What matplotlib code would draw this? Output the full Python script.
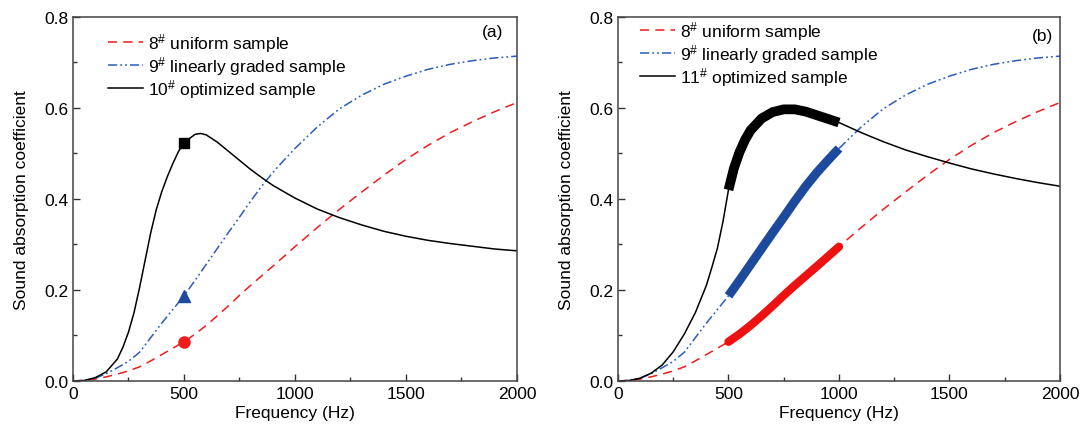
import numpy as np
import matplotlib
matplotlib.use("Agg")
import matplotlib.pyplot as plt
from matplotlib.ticker import MultipleLocator

plt.rcParams['font.family'] = ['Liberation Sans', 'DejaVu Sans']
plt.rcParams['mathtext.fontset'] = 'custom'
plt.rcParams['mathtext.rm'] = 'Liberation Sans'
plt.rcParams['mathtext.it'] = 'Liberation Sans'
plt.rcParams['mathtext.default'] = 'regular'

# ---- data ----
freq_uniform = [0, 50, 100, 150, 200, 250, 300, 350, 400, 450, 500, 550, 600, 650, 700,
                750, 800, 900, 1000, 1100, 1200, 1300, 1400, 1500, 1600, 1700, 1800, 1900, 2000]
alpha_uniform = [0, 0.001, 0.004, 0.009, 0.015, 0.022, 0.031, 0.044, 0.058, 0.072, 0.086,
                 0.103, 0.122, 0.143, 0.165, 0.188, 0.210, 0.252, 0.295, 0.337, 0.377,
                 0.415, 0.452, 0.487, 0.518, 0.546, 0.570, 0.592, 0.612]

freq_graded = [0, 50, 100, 150, 200, 250, 300, 350, 400, 450, 500, 550, 600, 650, 700,
               750, 800, 850, 900, 950, 1000, 1100, 1200, 1300, 1400, 1500, 1600, 1700,
               1800, 1900, 2000]
alpha_graded = [0, 0.001, 0.006, 0.016, 0.029, 0.043, 0.063, 0.095, 0.127, 0.157, 0.187,
                0.221, 0.256, 0.291, 0.326, 0.360, 0.395, 0.428, 0.458, 0.485, 0.511,
                0.558, 0.598, 0.628, 0.652, 0.670, 0.685, 0.696, 0.704, 0.710, 0.714]

freq_opt10 = [0, 50, 100, 150, 200, 225, 250, 275, 300, 325, 350, 375, 400, 425, 450, 475,
              500, 550, 575, 600, 650, 700, 750, 800, 850, 900, 1000, 1100, 1200, 1300,
              1400, 1500, 1600, 1700, 1800, 1900, 2000]
alpha_opt10 = [0, 0.001, 0.007, 0.020, 0.048, 0.074, 0.107, 0.150, 0.205, 0.265, 0.325,
               0.376, 0.416, 0.449, 0.478, 0.504, 0.524, 0.542, 0.544, 0.541, 0.525,
               0.505, 0.485, 0.465, 0.447, 0.430, 0.402, 0.378, 0.359, 0.343, 0.329,
               0.318, 0.309, 0.302, 0.296, 0.290, 0.286]

freq_opt11 = [0, 50, 100, 150, 200, 250, 300, 350, 400, 425, 450, 475, 500, 525, 550, 575,
              600, 650, 700, 750, 800, 850, 900, 950, 1000, 1100, 1200, 1300, 1400, 1500,
              1600, 1700, 1800, 1900, 2000]
alpha_opt11 = [0, 0.001, 0.006, 0.017, 0.035, 0.064, 0.103, 0.150, 0.210, 0.250, 0.292,
               0.350, 0.420, 0.468, 0.503, 0.530, 0.551, 0.577, 0.591, 0.597, 0.597,
               0.592, 0.584, 0.576, 0.568, 0.546, 0.526, 0.508, 0.493, 0.479, 0.466,
               0.455, 0.445, 0.436, 0.428]

marker_freq = 500
band = (500, 1000)

labels_a = [r'8$^{\#}$ uniform sample', r'9$^{\#}$ linearly graded sample',
            r'10$^{\#}$ optimized sample']
labels_b = [r'8$^{\#}$ uniform sample', r'9$^{\#}$ linearly graded sample',
            r'11$^{\#}$ optimized sample']

RED = '#f01c1c'
BLUE = '#2a5cbf'
BLUE_DARK = '#1d4a9c'
BLACK = '#000000'
dashdotdot = (0, (6, 2, 1.2, 2, 1.2, 2))

fig = plt.figure(figsize=(10.84, 4.39), dpi=100)
axa = fig.add_axes([0.0673, 0.130, 0.4096, 0.829])
axb = fig.add_axes([0.5701, 0.130, 0.4077, 0.829])


def style(ax, panel, px, py):
    ax.set_xlim(0, 2000)
    ax.set_ylim(0, 0.8)
    ax.xaxis.set_major_locator(MultipleLocator(500))
    ax.xaxis.set_minor_locator(MultipleLocator(250))
    ax.yaxis.set_major_locator(MultipleLocator(0.2))
    ax.yaxis.set_minor_locator(MultipleLocator(0.1))
    ax.yaxis.set_major_formatter(plt.FuncFormatter(lambda v, p: f'{v:.1f}'))
    ax.tick_params(which='both', direction='in', labelsize=12.5, colors='#333333',
                   labelcolor='black', width=1)
    ax.tick_params(which='major', length=5)
    ax.tick_params(which='minor', length=3)
    for s in ax.spines.values():
        s.set_color('#444444')
        s.set_linewidth(1.1)
    ax.set_xlabel('Frequency (Hz)', fontsize=12.5, labelpad=3)
    ax.set_ylabel('Sound absorption coefficient', fontsize=12.5, labelpad=11)
    ax.text(px, py, panel, transform=ax.transAxes, ha='right', va='center',
            fontsize=12.5)


def interp_at(fx, fy, x):
    return np.interp(x, fx, fy)


# ---- panel (a) ----
l1, = axa.plot(freq_uniform, alpha_uniform, color=RED, lw=1.1, linestyle=(0, (6, 4)))
l2, = axa.plot(freq_graded, alpha_graded, color=BLUE, lw=1.1, linestyle=dashdotdot)
l3, = axa.plot(freq_opt10, alpha_opt10, color=BLACK, lw=1.1)
axa.plot([marker_freq], [interp_at(freq_uniform, alpha_uniform, marker_freq)], 'o',
         color=RED, ms=8)
axa.plot([marker_freq], [interp_at(freq_graded, alpha_graded, marker_freq)], '^',
         color=BLUE_DARK, ms=8)
axa.plot([marker_freq], [interp_at(freq_opt10, alpha_opt10, marker_freq)], 's',
         color=BLACK, ms=7)
style(axa, '(a)', 0.968, 0.959)
axa.legend([l1, l2, l3], labels_a, loc='upper left', bbox_to_anchor=(0.079, 0.962),
           frameon=False, fontsize=12.5, handlelength=2.0, handletextpad=0.3,
           labelspacing=0.0, borderaxespad=0, borderpad=0)

# ---- panel (b) ----
m1, = axb.plot(freq_uniform, alpha_uniform, color=RED, lw=1.1, linestyle=(0, (6, 4)))
m2, = axb.plot(freq_graded, alpha_graded, color=BLUE, lw=1.1, linestyle=dashdotdot)
m3, = axb.plot(freq_opt11, alpha_opt11, color=BLACK, lw=1.1)


def thick(ax, fx, fy, color, capstyle, lw):
    fx = np.asarray(fx, float)
    fy = np.asarray(fy, float)
    m = (fx >= band[0]) & (fx <= band[1])
    ax.plot(fx[m], fy[m], color=color, lw=lw, solid_capstyle=capstyle,
            solid_joinstyle='round')


thick(axb, freq_uniform, alpha_uniform, '#ee1111', 'round', 6.0)
thick(axb, freq_graded, alpha_graded, BLUE_DARK, 'butt', 6.5)
thick(axb, freq_opt11, alpha_opt11, BLACK, 'butt', 7.0)
style(axb, '(b)', 0.985, 0.948)
axb.legend([m1, m2, m3], labels_b, loc='upper left', bbox_to_anchor=(0.05, 0.995),
           frameon=False, fontsize=12.5, handlelength=2.0, handletextpad=0.3,
           labelspacing=0.0, borderaxespad=0, borderpad=0)

fig.savefig('out.png', dpi=100)
